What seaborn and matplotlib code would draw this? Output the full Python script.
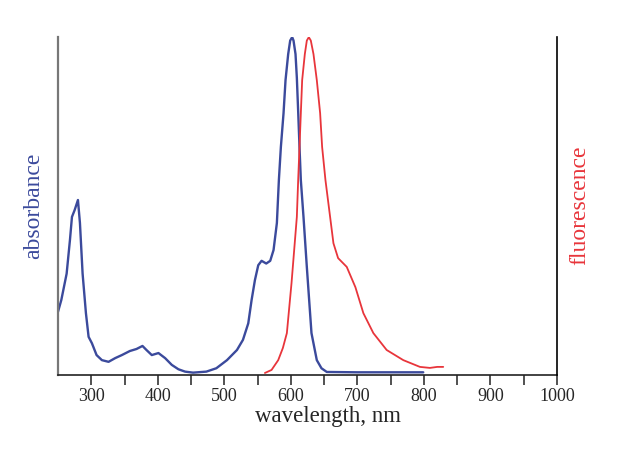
import matplotlib
matplotlib.use("Agg")
import matplotlib.pyplot as plt
import seaborn as sns
import pandas as pd
import numpy as np

# Absorbance spectrum (normalized)
abs_wl = [250, 255, 263, 268, 271, 275, 280, 283, 287, 292, 296, 301, 308, 316, 326, 336,
          346, 358, 368, 377, 383, 391, 401, 411, 421, 431, 441, 453, 473, 488, 504, 519,
          528, 536, 541, 546, 551, 556, 563, 569, 574, 579, 582, 585, 589, 592, 596, 599,
          602, 604, 607, 609, 611, 613, 615, 619, 624, 631, 639, 646, 654, 700, 750, 799]
abs_val = [0.187, 0.222, 0.30, 0.40, 0.468, 0.488, 0.518, 0.45, 0.30, 0.183, 0.113, 0.094,
           0.059, 0.044, 0.039, 0.05, 0.059, 0.071, 0.077, 0.086, 0.074, 0.059, 0.065, 0.05,
           0.03, 0.017, 0.01, 0.007, 0.01, 0.02, 0.044, 0.074, 0.104, 0.153, 0.222, 0.281,
           0.325, 0.338, 0.33, 0.338, 0.37, 0.45, 0.577, 0.675, 0.775, 0.873, 0.95, 0.99,
           1.0, 0.99, 0.95, 0.88, 0.78, 0.675, 0.577, 0.468, 0.32, 0.124, 0.044, 0.02, 0.009,
           0.008, 0.008, 0.008]

# Fluorescence spectrum (normalized)
fl_wl = [561, 571, 581, 588, 594, 601, 609, 611, 613, 615, 617, 621, 624, 627, 630, 634,
         639, 644, 647, 652, 659, 664, 671, 684, 697, 709, 724, 744, 769, 794, 809, 820, 829]
fl_val = [0.006, 0.015, 0.044, 0.08, 0.124, 0.272, 0.468, 0.577, 0.675, 0.775, 0.873, 0.95,
          0.99, 1.0, 0.99, 0.95, 0.873, 0.775, 0.675, 0.577, 0.468, 0.39, 0.346, 0.32, 0.26,
          0.183, 0.124, 0.074, 0.044, 0.024, 0.021, 0.024, 0.024]

xticks = [300, 400, 500, 600, 700, 800, 900, 1000]

BLUE = "#3b4a9c"
RED = "#e8353b"

sns.set_theme(style="white")
plt.rcParams['font.family'] = ['Liberation Serif', 'DejaVu Serif']

fig = plt.figure(figsize=(6.4, 4.59), dpi=100)
ax = fig.add_axes([0.0906, 0.183, 0.7797, 0.736])

df_abs = pd.DataFrame({"wavelength": abs_wl, "value": abs_val})
df_fl = pd.DataFrame({"wavelength": fl_wl, "value": fl_val})

sns.lineplot(data=df_abs, x="wavelength", y="value", ax=ax, color=BLUE, lw=1.7)
ax2 = ax.twinx()
sns.lineplot(data=df_fl, x="wavelength", y="value", ax=ax2, color=RED, lw=1.3)

for a in (ax, ax2):
    a.set_xlim(250, 1000)
    a.set_ylim(0, 1.0)
    a.set_yticks([])
    a.set_ylabel("")
    a.spines['top'].set_visible(False)

ax.spines['left'].set_color("#777777")
ax.spines['left'].set_linewidth(1.6)
ax.spines['right'].set_visible(False)
ax2.spines['left'].set_visible(False)
ax2.spines['bottom'].set_visible(False)
ax2.spines['right'].set_color("black")
ax2.spines['right'].set_linewidth(1.2)
ax.spines['bottom'].set_color("#222222")
ax.spines['bottom'].set_linewidth(1.2)

ax.set_xticks(xticks)
ax.set_xticklabels([str(t) for t in xticks])
ax.set_xticks(np.arange(350, 1000, 100), minor=True)
ax.tick_params(axis='x', which='both', direction='out', length=7, width=1.1,
               color="#222222", bottom=True, labelsize=13, pad=2)
ax.set_xlabel("")

fig.text(0.513, 0.093, "wavelength, nm", ha="center", va="center", fontsize=16.5)
fig.text(0.052, 0.552, "absorbance", ha="center", va="center", rotation=90,
         fontsize=17, color=BLUE)
fig.text(0.906, 0.552, "fluorescence", ha="center", va="center", rotation=90,
         fontsize=17, color=RED)

fig.savefig("out.png", dpi=100)
